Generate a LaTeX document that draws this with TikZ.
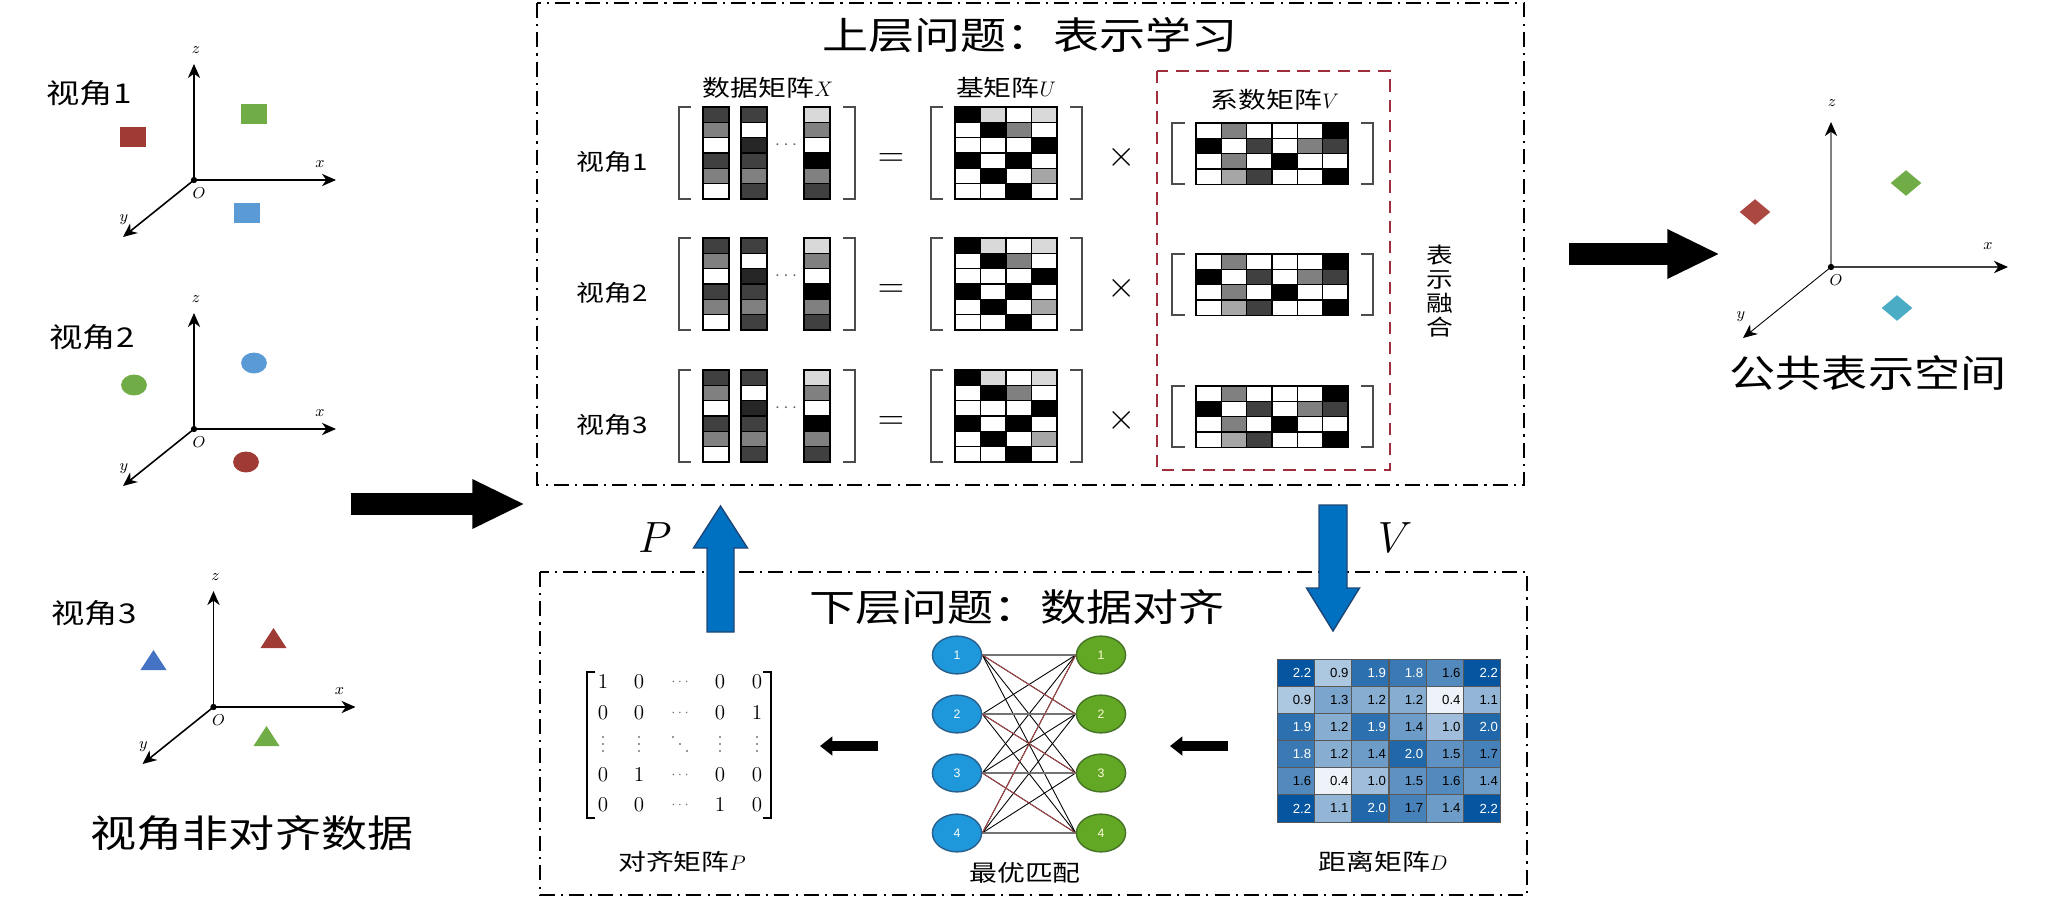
\documentclass[tikz,border=0pt]{standalone}
\usepackage{fontspec}
\setmainfont{Noto Sans CJK SC}[FakeStretch=1.22]
\newfontfamily\numfont{Liberation Sans}
\usepackage{tikz}
\usetikzlibrary{arrows.meta}
\usetikzlibrary{shapes.geometric}
\usetikzlibrary{calc,backgrounds}
\definecolor{ptred} {RGB} {160, 58, 52}
\definecolor{ptgreen} {RGB} {112, 173, 71}
\definecolor{ptblue} {RGB} {91, 155, 213}
\definecolor{triblue} {RGB} {68, 114, 196}
\definecolor{gemred} {RGB} {172, 72, 66}
\definecolor{gemcyan} {RGB} {75, 172, 198}
\definecolor{fusered} {RGB} {160, 45, 60}
\definecolor{flowblue} {RGB} {0, 112, 192}
\definecolor{flowedge} {RGB} {30, 70, 120}
\definecolor{lfill} {RGB} {30, 152, 218}
\definecolor{ledge} {RGB} {40, 95, 140}
\definecolor{rfill} {RGB} {98, 168, 36}
\definecolor{redge} {RGB} {70, 115, 40}
\definecolor{matchred} {RGB} {170, 70, 70}
\definecolor{dblue} {RGB} {5, 85, 160}
\tikzstyle{axis}=[
  line width=0.9pt, -{Stealth[length=8pt,width=7pt,inset=2.5pt,color=black]}
]
\tikzstyle{axlabel}=[
  inner sep=0pt, font=\fontsize{9.5}{10}\selectfont
]
\tikzstyle{bigtext}=[
  inner sep=0pt, font=\fontsize{21.5}{24}\selectfont
]
\tikzstyle{viewtext}=[
  inner sep=0pt, font=\fontsize{15.5}{18}\selectfont
]
\tikzstyle{smalltext}=[
  inner sep=0pt, font=\fontsize{13}{15}\selectfont
]
\tikzstyle{letter}=[
  inner sep=0pt, font=\fontsize{30}{30}\selectfont
]
\tikzstyle{frame}=[
  draw, line width=1pt, dash pattern=on 8.5pt off 3.5pt on 1.2pt off 3.5pt
]
\tikzstyle{fusebox}=[
  draw=fusered, line width=1.2pt, dash pattern=on 7pt off 4.5pt
]
\tikzstyle{brk}=[
  line width=1pt, draw=black!70
]
\tikzstyle{cellline}=[
  draw=black, line width=0.6pt
]
\tikzstyle{sq}=[
  rectangle, inner sep=0pt, minimum width=14.7pt, minimum height=11.9pt
]
\tikzstyle{dot}=[
  ellipse, inner sep=0pt, minimum width=14.7pt, minimum height=11.9pt
]
\tikzstyle{gem}=[
  diamond, inner sep=0pt, minimum width=17.6pt, minimum height=14.7pt
]
\tikzstyle{bigarrow}=[
  line width=12.5pt, -{Triangle[length=30pt,width=26pt]}
]
\tikzstyle{smallarrow}=[
  line width=5.7pt, -{Triangle[length=7pt,width=10.5pt]}
]
\tikzstyle{flow}=[
  fill=flowblue, draw=flowedge, line width=0.8pt
]
\tikzstyle{lnode}=[
  ellipse, draw=ledge, fill=lfill, line width=0.8pt, minimum width=28pt,
  minimum height=21.5pt, inner sep=0pt, text=white, font=\numfont\fontsize{7}{8}\selectfont
]
\tikzstyle{rnode}=[
  lnode, draw=redge, fill=rfill, text=yellow!15!white
]
\tikzstyle{match}=[
  line width=0.5pt
]
\tikzstyle{dcell}=[
  rectangle, draw=black!65, line width=0.5pt, minimum height=15.4pt, text width=17.65pt,
  inner xsep=1.75pt, inner ysep=0pt, align=right, font=\numfont\fontsize{7.5}{8}\selectfont
]
\tikzstyle{pentry}=[
  inner sep=0pt, font=\fontsize{11.5}{12}\selectfont
]
\tikzstyle{pdots}=[
  inner sep=0pt, text=black!55, font=\fontsize{8}{8}\selectfont
]

\begin{document}
\begin{tikzpicture}[x=0.02cm, y=-0.02cm]
\useasboundingbox (0,0) rectangle (2048,903);

\draw [frame] (537,3) rectangle (1524,485);
\draw [frame] (540,572) rectangle (1527,895);
\draw [fusebox] (1157,71) rectangle (1390,470);

% left: the three views
\foreach \k/\ox/\oy in {1/194/180, 2/194/429, 3/213.5/707} {
  \coordinate (o\k) at (\ox, \oy);
  \coordinate (zt\k) at ($(o\k)+(0,-116)$);
  \coordinate (xt\k) at ($(o\k)+(142,0)$);
  \coordinate (yt\k) at ($(o\k)+(-71,57)$);
  \draw [axis] (o\k) -- (zt\k);
  \draw [axis] (o\k) -- (xt\k);
  \draw [axis] (o\k) -- (yt\k);
  \fill (o\k) circle (1.8pt);
  \node (zl\k) [axlabel] at ($(o\k)+(2,-130)$) {$z$};
  \node (xl\k) [axlabel] at ($(o\k)+(126,-16)$) {$x$};
  \node (yl\k) [axlabel] at ($(o\k)+(-70,40)$) {$y$};
  \node (ol\k) [axlabel] at ($(o\k)+(5,13)$) {$O$};
}
\node (view1) [viewtext] at (89, 93) {视角1};
\node (view2) [viewtext] at (92, 337) {视角2};
\node (view3) [viewtext] at (94, 613) {视角3};
\node (s1) [sq, fill=ptred] at ($(o1)+(-61,-43)$) {};
\node (s2) [sq, fill=ptgreen] at ($(o1)+(60,-66)$) {};
\node (s3) [sq, fill=ptblue] at ($(o1)+(53,33)$) {};
\node (c1) [dot, fill=ptgreen] at ($(o2)+(-60,-44)$) {};
\node (c2) [dot, fill=ptblue] at ($(o2)+(60,-66)$) {};
\node (c3) [dot, fill=ptred] at ($(o2)+(52,33)$) {};
\coordinate (t1) at ($(o3)+(-60,-47)$);
\coordinate (t2) at ($(o3)+(60,-69)$);
\coordinate (t3) at ($(o3)+(53,29)$);
\fill [triblue] (t1) ++(-13,10) -- ++(26,0) -- ++(-13,-20) -- cycle;
\fill [ptred] (t2) ++(-13,10) -- ++(26,0) -- ++(-13,-20) -- cycle;
\fill [ptgreen] (t3) ++(-13,10) -- ++(26,0) -- ++(-13,-20) -- cycle;
\node (unaligned) [bigtext] at (252, 833) {视角非对齐数据};

% right: common space
\coordinate (o4) at (1831, 267);
\coordinate (zt4) at ($(o4)+(0,-145)$);
\coordinate (xt4) at ($(o4)+(177,0)$);
\coordinate (yt4) at ($(o4)+(-88,71)$);
\draw [axis, draw=black!50] (o4) -- (zt4);
\draw [axis, draw=black!75] (o4) -- (xt4);
\draw [axis, line width=0.5pt] (o4) -- (yt4);
\fill (o4) circle (1.8pt);
\node (zl4) [axlabel] at ($(o4)+(1,-164)$) {$z$};
\node (xl4) [axlabel] at ($(o4)+(157,-21)$) {$x$};
\node (yl4) [axlabel] at ($(o4)+(-90,50)$) {$y$};
\node (ol4) [axlabel] at ($(o4)+(5,13)$) {$O$};
\node (g1) [gem, fill=gemred] at ($(o4)+(-76,-55)$) {};
\node (g2) [gem, fill=ptgreen] at ($(o4)+(75,-84)$) {};
\node (g3) [gem, fill=gemcyan] at ($(o4)+(66,41)$) {};
\node (common) [bigtext] at (1868, 373) {公共表示空间};

\coordinate (in tail) at (351, 504);
\coordinate (in tip) at (525, 504);
\coordinate (out tail) at (1569, 254);
\coordinate (out tip) at (1720, 254);
\draw [bigarrow] (in tail) -- (in tip);
\draw [bigarrow] (out tail) -- (out tip);

% upper problem
\node (up title) [bigtext] at (1030, 35) {上层问题：表示学习};
\node (xlab) [smalltext] at (768, 88) {数据矩阵$X$};
\node (ulab) [smalltext] at (1006, 88) {基矩阵$U$};
\node (vlab) [smalltext] at (1275, 100) {系数矩阵$V$};
\node (fuse) [smalltext, font=\fontsize{12.5}{13.6}\selectfont, align=center] at (1440, 291) {表\\示\\融\\合};

\foreach \rw/\tp in {1/107, 2/238, 3/370} {
  \node (row\rw) [smalltext] at (612, \tp+55) {视角\rw};
  \foreach \cx/\col in {703/{75,50,0,75,50,0}, 741/{75,0,85,75,50,75}, 804/{15,50,0,100,50,75}}
    \foreach \gv [count=\ii] in \col
      \filldraw [cellline, fill=black!\gv] (\cx, \tp+15.33*\ii-15.33) rectangle ++(26, 15.33);
  \node (dots\rw) [font=\fontsize{11}{11}\selectfont, text=black!60, inner sep=0pt] at (786, \tp+38) {$\cdots$};
  \draw [brk] (691,\tp) -| (679,\tp+92) -- (691,\tp+92);
  \draw [brk] (843,\tp) -| (855,\tp+92) -- (843,\tp+92);
  \node (eq\rw) [inner sep=0pt, font=\fontsize{20}{20}\selectfont] at (891, \tp+53) {$=$};
  \foreach \row [count=\ii] in {{100,15,0,15},{0,100,50,0},{0,0,0,100},{100,0,100,0},{0,100,0,35},{0,0,100,0}}
    \foreach \gv [count=\jj] in \row
      \filldraw [cellline, fill=black!\gv] (955+25.5*\jj-25.5, \tp+15.33*\ii-15.33) rectangle ++(25.5, 15.33);
  \draw [brk] (943,\tp) -| (931,\tp+92) -- (943,\tp+92);
  \draw [brk] (1070,\tp) -| (1082,\tp+92) -- (1070,\tp+92);
  \node (times\rw) [inner sep=0pt, font=\fontsize{20}{20}\selectfont] at (1122, \tp+50) {$\times$};
  \foreach \row [count=\ii] in {{0,50,0,0,0,100},{100,0,75,0,50,75},{0,50,0,100,0,0},{0,35,75,0,0,100}}
    \foreach \gv [count=\jj] in \row
      \filldraw [cellline, fill=black!\gv] (1196+25.33*\jj-25.33, \tp+16+15.33*\ii-15.33) rectangle ++(25.33, 15.33);
  \draw [brk] (1185,\tp+16) -| (1172,\tp+77) -- (1185,\tp+77);
  \draw [brk] (1361,\tp+16) -| (1373,\tp+77) -- (1361,\tp+77);
}

% lower problem
\node (low title) [bigtext] at (1017, 607) {下层问题：数据对齐};
\coordinate (p base) at (720.5, 632);
\coordinate (v base) at (1333, 505);
\filldraw [flow] (p base) ++(-13.5,0) -- ++(0,-84) -- ++(-13.5,0) -- ++(27,-42)
  -- ++(27,42) -- ++(-13.5,0) -- ++(0,84) -- cycle;
\filldraw [flow] (v base) ++(-14,0) -- ++(0,83) -- ++(-12.5,0) -- ++(26.5,43)
  -- ++(26.5,-43) -- ++(-12.5,0) -- ++(0,-83) -- cycle;
\node (plet) [letter] at (655, 538) {$P$};
\node (vlet) [letter] at (1395, 538) {$V$};

\foreach \row [count=\ii] in {{1,0,0,0},{0,0,0,1},{0,1,0,0},{0,0,1,0}}
  \foreach \e [count=\jj] in \row {
    \pgfmathsetmacro{\px}{{603,639,720,757}[\jj-1]}
    \pgfmathsetmacro{\py}{{682,713,775,805}[\ii-1]}
    \node (p\ii\jj) [pentry] at (\px, \py) {$\e$};
  }
\foreach \y [count=\ii] in {682,713,775,805}
  \node (pc\ii) [pdots] at (680, \y) {$\cdots$};
% vertical and diagonal dots
\foreach \x in {603,639,720,757}
  \foreach \dy in {-7,0,7}
    \fill [black!55] (\x, 744+\dy) circle (0.6pt);
\foreach \d in {-7,0,7}
  \fill [black!55] (680+\d, 744+\d) circle (0.6pt);
\draw [line width=0.6pt] (595,672) -| (587,818) -- (595,818);
\draw [line width=0.6pt] (763,672) -| (771,818) -- (763,818);
\node (plab) [smalltext] at (682, 862) {对齐矩阵$P$};

\foreach \k/\y in {1/655, 2/714, 3/773, 4/833} {
  \node (L\k) [lnode] at (957, \y) {\k};
  \node (R\k) [rnode] at (1101, \y) {\k};
}
\node (mlab) [smalltext] at (1025, 873) {最优匹配};

\foreach \row [count=\ii] in {{2.2,0.9,1.9,1.8,1.6,2.2},{0.9,1.3,1.2,1.2,0.4,1.1},{1.9,1.2,1.9,1.4,1.0,2.0},{1.8,1.2,1.4,2.0,1.5,1.7},{1.6,0.4,1.0,1.5,1.6,1.4},{2.2,1.1,2.0,1.7,1.4,2.2}}
  \foreach \dv [count=\jj] in \row {
    \pgfmathtruncatemacro{\pct}{(\dv-0.25)/1.95*100}
    \pgfmathtruncatemacro{\dark}{\dv>1.75}
    \ifnum\dark=1 \def\tc{white}\else\def\tc{black}\fi
    \node (d\ii\jj) [dcell, fill=dblue!\pct!white, text=\tc] at (1277+37.33*\jj-18.67, 659+27.17*\ii-13.58) {\dv};
  }
\node (dlab) [smalltext] at (1383, 862) {距离矩阵$D$};

\coordinate (d tail) at (1228, 746);
\coordinate (d tip) at (1170, 746);
\coordinate (m tail) at (878, 746);
\coordinate (m tip) at (820, 746);
\draw [smallarrow] (d tail) -- (d tip);
\draw [smallarrow] (m tail) -- (m tip);

\begin{scope}[on background layer]
\foreach \i in {1,...,4}
  \foreach \j in {1,...,4}
    \draw [match] (L\i.east) -- (R\j.west);
\foreach \i in {1,...,4}
  \draw [match, draw=black!55, line width=1.1pt] (L\i.east) -- (R\i.west);
\foreach \i/\j in {1/2, 2/3, 3/4, 4/1}
  \draw [match, draw=matchred] (L\i.east) -- (R\j.west);
\end{scope}
\end{tikzpicture}
\end{document}
